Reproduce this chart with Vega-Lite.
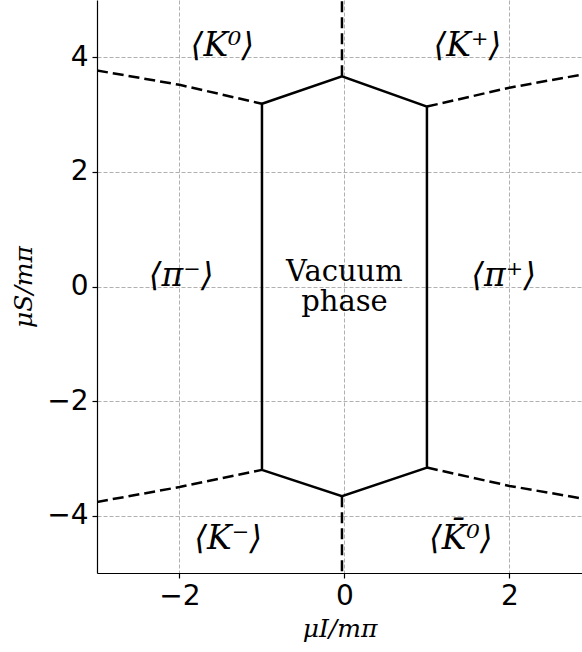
{
  "$schema": "https://vega.github.io/schema/vega-lite/v6.json",
  "width": 485,
  "height": 573,
  "autosize": "none",
  "padding": {"left": 97, "top": 0, "right": 0, "bottom": 79},
  "config": {
    "view": {"stroke": null},
    "axis": {
      "labelFont": "DejaVu Sans",
      "labelFontSize": 28,
      "labelColor": "black",
      "titleFont": "DejaVu Serif",
      "titleFontSize": 25,
      "titleFontWeight": "normal",
      "titleFontStyle": "italic",
      "titleColor": "black",
      "domainColor": "black",
      "domainWidth": 1.2,
      "tickColor": "black",
      "tickSize": 5,
      "tickWidth": 1.2,
      "gridColor": "#b0b0b0",
      "gridDash": [4, 2],
      "gridWidth": 1,
      "labelPadding": 4
    }
  },
  "datasets": {
    "hex": [
      {"o": 0, "x": -1.0, "y": 3.19},
      {"o": 1, "x": -0.03, "y": 3.67},
      {"o": 2, "x": 1.0, "y": 3.14},
      {"o": 3, "x": 1.0, "y": -3.16},
      {"o": 4, "x": -0.03, "y": -3.66},
      {"o": 5, "x": -1.0, "y": -3.2},
      {"o": 6, "x": -1.0, "y": 3.19}
    ],
    "dash": [
      {"s": "a", "o": 0, "x": -3.0, "y": 3.77},
      {"s": "a", "o": 1, "x": -2.0, "y": 3.52},
      {"s": "a", "o": 2, "x": -1.0, "y": 3.19},
      {"s": "b", "o": 0, "x": 1.0, "y": 3.14},
      {"s": "b", "o": 1, "x": 2.0, "y": 3.47},
      {"s": "b", "o": 2, "x": 3.0, "y": 3.73},
      {"s": "c", "o": 0, "x": -0.03, "y": 3.67},
      {"s": "c", "o": 1, "x": -0.03, "y": 5.0},
      {"s": "d", "o": 0, "x": -0.03, "y": -3.66},
      {"s": "d", "o": 1, "x": -0.03, "y": -5.0},
      {"s": "e", "o": 0, "x": -3.0, "y": -3.76},
      {"s": "e", "o": 1, "x": -2.0, "y": -3.5},
      {"s": "e", "o": 2, "x": -1.0, "y": -3.2},
      {"s": "f", "o": 0, "x": 1.0, "y": -3.16},
      {"s": "f", "o": 1, "x": 2.0, "y": -3.48},
      {"s": "f", "o": 2, "x": 3.0, "y": -3.73}
    ],
    "labels": [
      {"x": -1.48, "y": 4.2, "t": "⟨K⁰⟩"},
      {"x": 1.49, "y": 4.2, "t": "⟨K⁺⟩"},
      {"x": -1.98, "y": 0.19, "t": "⟨π⁻⟩"},
      {"x": 1.93, "y": 0.19, "t": "⟨π⁺⟩"},
      {"x": -1.41, "y": -4.4, "t": "⟨K⁻⟩"},
      {"x": 1.41, "y": -4.4, "t": "⟨K̄⁰⟩"}
    ],
    "center": [
      {"x": 0.0, "y": 0.0, "t": "Vacuum\nphase"}
    ]
  },
  "encoding": {
    "x": {
      "field": "x", "type": "quantitative",
      "scale": {"domain": [-3, 2.88], "nice": false, "zero": false},
      "axis": {"values": [-2, 0, 2], "title": "μI/mπ", "titlePadding": 6}
    },
    "y": {
      "field": "y", "type": "quantitative",
      "scale": {"domain": [-5, 5], "nice": false, "zero": false},
      "axis": {"values": [-4, -2, 0, 2, 4], "title": "μS/mπ", "titlePadding": 10}
    }
  },
  "layer": [
    {
      "data": {"name": "hex"},
      "mark": {"type": "line", "color": "black", "strokeWidth": 2.5, "clip": true},
      "encoding": {"order": {"field": "o", "type": "quantitative"}}
    },
    {
      "data": {"name": "dash"},
      "mark": {"type": "line", "color": "black", "strokeWidth": 2.5, "strokeDash": [11, 5], "clip": true},
      "encoding": {
        "detail": {"field": "s", "type": "nominal"},
        "order": {"field": "o", "type": "quantitative"}
      }
    },
    {
      "data": {"name": "labels"},
      "mark": {"type": "text", "font": "DejaVu Serif", "fontSize": 33, "fontStyle": "italic", "color": "black", "align": "center", "baseline": "middle"},
      "encoding": {"text": {"field": "t"}}
    },
    {
      "data": {"name": "center"},
      "mark": {"type": "text", "font": "DejaVu Serif", "fontSize": 29, "color": "black", "align": "center", "baseline": "middle", "lineBreak": "\n", "lineHeight": 30, "dy": -15},
      "encoding": {"text": {"field": "t"}}
    }
  ]
}
